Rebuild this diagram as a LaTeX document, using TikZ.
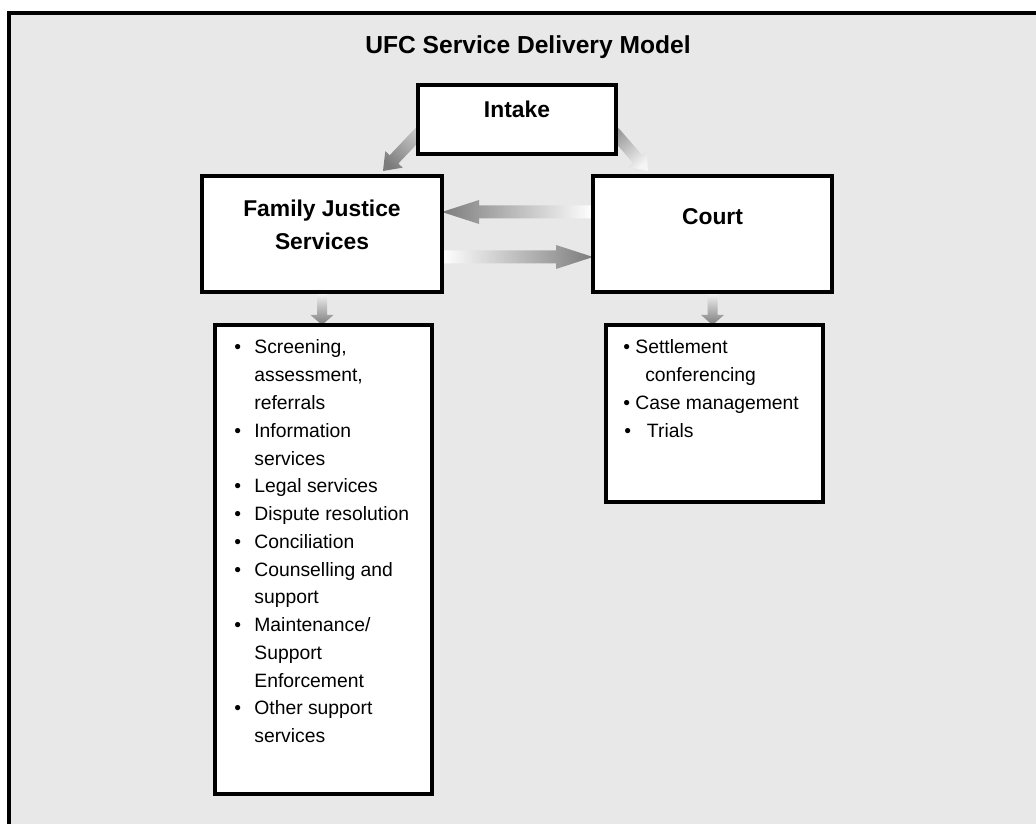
\documentclass[tikz,border=0pt]{standalone}
\usepackage{fontspec}
\setmainfont{Liberation Sans}
\usepackage{tikz}
\usetikzlibrary{calc,fit,backgrounds}

\definecolor{panel}{HTML}{E8E8E8}
\definecolor{arrowgray}{HTML}{7C7C7C}

\tikzset{
  box/.style={draw=black, line width=2pt, fill=white, inner sep=0pt, outer sep=0pt},
  boxtext/.style={font=\fontsize{13}{18.8}\selectfont\bfseries, align=center, inner sep=0pt},
  listtext/.style={font=\fontsize{11}{15.8}\selectfont, inner sep=0pt, anchor=base west},
}

% shaded block arrow: tail, tip, shaft half width, head half width, head length, shading
\newcommand{\fadearrow}[6]{%
  \coordinate (hb) at ($(#2)!#5*0.02cm!(#1)$);
  \shade[#6] ($(#1)!#3*0.02cm!90:(#2)$) -- ($(hb)!#3*0.02cm!90:(#2)$)
    -- ($(hb)!#4*0.02cm!90:(#2)$) -- (#2) -- ($(hb)!#4*0.02cm!-90:(#2)$)
    -- ($(hb)!#3*0.02cm!-90:(#2)$) -- ($(#1)!#3*0.02cm!-90:(#2)$) -- cycle;
}

\begin{document}
\begin{tikzpicture}[x=0.02cm, y=0.02cm]
\useasboundingbox (0,0) rectangle (1036,824);

% frame
\begin{scope}[on background layer]
\draw[line width=2pt, fill=panel] (9,811) rectangle (1046,-12);
\end{scope}

% title
\node[font=\fontsize{14}{17}\selectfont\bfseries, inner sep=0pt] (title) at (528,777) {UFC Service Delivery Model};

% main boxes
\node[box, fit={(418,739) (616,670)}] (intake) {};
\node[box, fit={(202,648) (442,532)}] (fjs) {};
\node[box, fit={(593,648) (832,532)}] (court) {};
\node[boxtext] (intaketext) at ([shift={(0,-24)}]intake.north) {Intake};
\node[boxtext] (fjstext) at ([shift={(0,-49)}]fjs.north) {Family Justice\\Services};
\node[boxtext] (courttext) at ([shift={(0,-40.5)}]court.north) {Court};

% list boxes
\node[box, fit={(215,499) (432,30)}] (fjslist) {};
\node[box, fit={(606,499) (823,322)}] (courtlist) {};

\node[listtext] (fjsitems) at ([shift={(19,-29)}]fjslist.north west) {%
\begin{tabular}[t]{@{}p{11.4pt}@{}l@{}}
\textbullet & Screening,\\
 & assessment,\\
 & referrals\\
\textbullet & Information\\
 & services\\
\textbullet & Legal services\\
\textbullet & Dispute resolution\\
\textbullet & Conciliation\\
\textbullet & Counselling and\\
 & support\\
\textbullet & Maintenance/\\
 & Support\\
 & Enforcement\\
\textbullet & Other support\\
 & services
\end{tabular}};

\node[listtext] (courtitems) at ([shift={(17,-29)}]courtlist.north west) {%
\begin{tabular}[t]{@{}l@{}}
\textbullet\ Settlement\\
\hspace*{12.5pt}conferencing\\
\textbullet\ Case management\\
\hspace*{0.6pt}\textbullet\hspace{9pt}Trials
\end{tabular}};

% arrow ends
\coordinate (t1) at ([shift={(2,-12.5)}]intake.west);
\coordinate (h1) at ([shift={(61,5)}]fjs.north);
\coordinate (t2) at ([shift={(-2,-12.5)}]intake.east);
\coordinate (h2) at ([shift={(-64.5,5)}]court.north);
\coordinate (t3) at ([shift={(0,22)}]court.west);
\coordinate (h3) at ([shift={(0,22)}]fjs.east);
\coordinate (t4) at ([shift={(0,-23)}]fjs.east);
\coordinate (h4) at ([shift={(0,-23)}]court.west);
\coordinate (h5) at (fjs.south |- fjslist.north);
\coordinate (h6) at (court.south |- courtlist.north);

% arrows
\begin{scope}[on background layer]
\fadearrow{t1}{h1}{6}{12}{16}{top color=arrowgray, bottom color=black!22, shading angle=136.5}
\fadearrow{t2}{h2}{6}{12}{16}{top color=black!4, bottom color=black!40, shading angle=-138.9}
\fadearrow{t3}{h3}{6.5}{12}{37}{top color=arrowgray, bottom color=white, shading angle=90}
\fadearrow{t4}{h4}{6.5}{12}{37}{top color=arrowgray, bottom color=white, shading angle=-90}
\fadearrow{fjs.south}{h5}{5}{11.5}{10}{top color=arrowgray, bottom color=black!3, shading angle=180}
\fadearrow{court.south}{h6}{5}{11.5}{10}{top color=arrowgray, bottom color=black!3, shading angle=180}
\end{scope}
\end{tikzpicture}
\end{document}
